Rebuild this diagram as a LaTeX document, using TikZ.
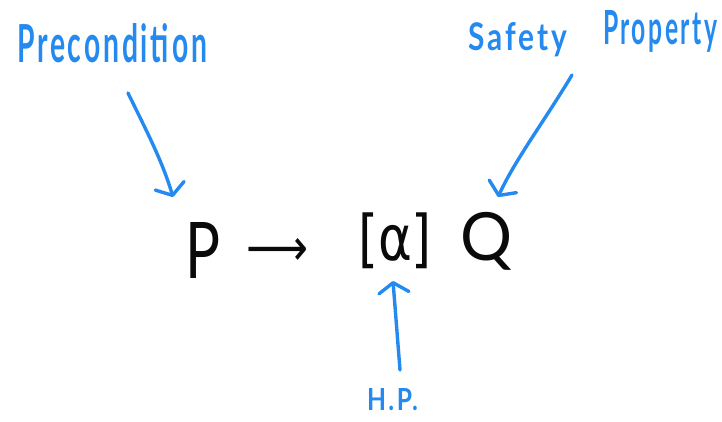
\documentclass[tikz,border=0pt]{standalone}
\usepackage{fontspec}
\usepackage{graphicx}
\setmainfont{Lato}
\newfontfamily\handfont[LetterSpace=10]{Lato}
\newfontfamily\symfont{DejaVu Sans}
\usetikzlibrary{arrows.meta}
\definecolor{penblue}{RGB}{36,138,240}
\definecolor{penblack}{RGB}{10,10,10}
\tikzset{
  lbl/.style={inner sep=0pt, outer sep=0pt, text=penblue, font=\handfont\bfseries},
  sym/.style={inner sep=0pt, outer sep=0pt, text=penblack},
  pointer/.style={draw=penblue, line width=3.4pt, line cap=round, line join=round,
    -{Straight Barb[length=10pt, width=30pt, line width=3.4pt, round]}}
}
\begin{document}
\begin{tikzpicture}[x=1pt, y=-1pt]
\useasboundingbox (0,0) rectangle (722,421);
% blue labels
\node[lbl, anchor=base west] (pre) at (17,62) {\resizebox{190pt}{39pt}{Precondition}};
\node[lbl, anchor=base west] (saf) at (468,50) {\resizebox{99pt}{28pt}{Safety}};
\node[lbl, anchor=base west] (prop) at (603,44) {\resizebox{114pt}{34pt}{Property}};
\node[lbl, anchor=base west] (hp) at (367,410) {\resizebox{51pt}{22pt}{H.P.}};
% formula
\node[sym, anchor=south west] (P) at (185,278) {\resizebox*{35pt}{56pt}{P}};
\node[sym, anchor=west] (imp) at (246,252) {\resizebox*{62pt}{27pt}{\symfont ⟶}};
\node[sym, anchor=south west] (box) at (358,269) {\resizebox*{74pt}{56pt}{\symfont [α]}};
\node[sym, anchor=south west] (Q) at (460,270) {\resizebox*{52pt}{58pt}{Q}};
% pointer coordinates
\coordinate (s1) at (128,93);
\coordinate (e1) at (173,197);
\coordinate (s2) at (572,75);
\coordinate (e2) at (498,197);
\coordinate (s3) at (400,370);
\coordinate (e3) at (393,281);
\draw[pointer] (s1) .. controls (145,128) and (162,160) .. (e1);
\draw[pointer] (s2) .. controls (545,120) and (515,160) .. (e2);
\draw[pointer] (s3) -- (e3);
\end{tikzpicture}
\end{document}
